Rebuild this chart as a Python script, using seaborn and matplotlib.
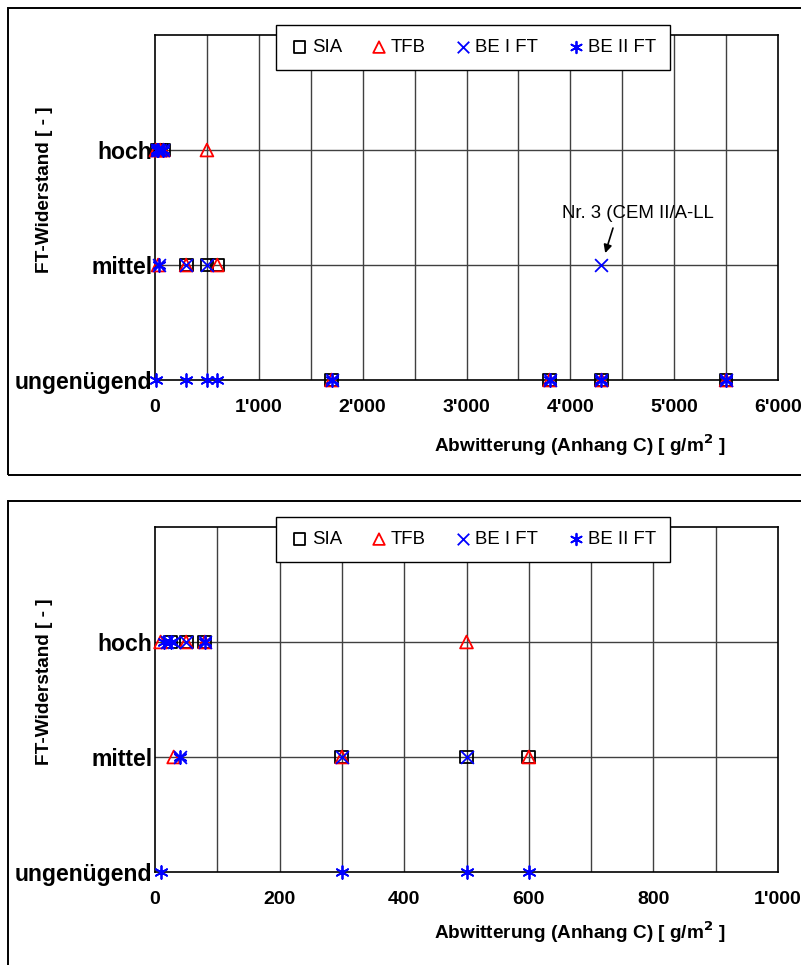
import matplotlib
matplotlib.use("Agg")
import matplotlib.pyplot as plt
import seaborn as sns
import pandas as pd
from matplotlib.patches import Rectangle

# categories on the y axis (bottom -> top)
levels = ["ungenügend", "mittel", "hoch"]

# Abwitterung [g/m2] and FT-Widerstand class per series
sia_x = [25, 50, 80, 300, 500, 600, 1700, 3800, 4300, 5500]
sia_lvl = ["hoch", "hoch", "hoch", "mittel", "mittel", "mittel",
           "ungenügend", "ungenügend", "ungenügend", "ungenügend"]

tfb_x = [9, 50, 80, 500, 30, 300, 600, 1700, 3800, 4300, 5500]
tfb_lvl = ["hoch", "hoch", "hoch", "hoch", "mittel", "mittel", "mittel",
           "ungenügend", "ungenügend", "ungenügend", "ungenügend"]

be1_x = [20, 30, 50, 80, 40, 300, 500, 4300, 1700, 3800, 4300, 5500]
be1_lvl = ["hoch", "hoch", "hoch", "hoch", "mittel", "mittel", "mittel", "mittel",
           "ungenügend", "ungenügend", "ungenügend", "ungenügend"]

be2_x = [15, 25, 80, 40, 10, 300, 500, 600, 1700, 3800, 4300, 5500]
be2_lvl = ["hoch", "hoch", "hoch", "mittel", "ungenügend", "ungenügend",
           "ungenügend", "ungenügend", "ungenügend", "ungenügend", "ungenügend", "ungenügend"]

x_ticks_top = [0, 1000, 2000, 3000, 4000, 5000, 6000]
x_labels_top = ["0", "1'000", "2'000", "3'000", "4'000", "5'000", "6'000"]
x_ticks_bot = [0, 200, 400, 600, 800, 1000]
x_labels_bot = ["0", "200", "400", "600", "800", "1'000"]

series = [
    ("SIA", sia_x, sia_lvl, dict(marker="s", facecolor="none", edgecolor="black")),
    ("TFB", tfb_x, tfb_lvl, dict(marker="^", facecolor="none", edgecolor="red")),
    ("BE I FT", be1_x, be1_lvl, dict(marker="x", color="blue")),
    ("BE II FT", be2_x, be2_lvl, dict(marker=(6, 2, 0), color="blue")),
]

sns.set_style("white")
plt.rcParams["font.family"] = ["Liberation Sans", "DejaVu Sans"]
plt.rcParams["text.color"] = "black"
plt.rcParams["xtick.color"] = "black"
plt.rcParams["ytick.color"] = "black"

ytick_size = 16.6
xtick_size = 14
label_size = 13.7
legend_size = 13.4

fig = plt.figure(figsize=(8.01, 9.65), dpi=100)

# panel frames
fig.patches.append(Rectangle((0.01, 0.5078), 1.0, 0.4839, transform=fig.transFigure,
                             fill=False, edgecolor="black", linewidth=1.4))
fig.patches.append(Rectangle((0.01, -0.02), 1.0, 0.5008, transform=fig.transFigure,
                             fill=False, edgecolor="black", linewidth=1.4))

ax1 = fig.add_axes([0.1935, 0.6062, 0.7778, 0.3575])
ax2 = fig.add_axes([0.1935, 0.0964, 0.7778, 0.3575])


def draw_panel(ax, xmax, xstep, ticks, labels, ylab_y, xlab_y):
    for name, xs, lv, kw in series:
        df = pd.DataFrame({"x": xs, "y": [levels.index(v) for v in lv]})
        df = df[df["x"] <= xmax]
        sns.scatterplot(data=df, x="x", y="y", s=85, linewidth=1.3, label=name,
                        clip_on=False, zorder=3, ax=ax, **kw)
    ax.set_xlim(0, xmax)
    ax.set_ylim(0, 3)
    for xv in range(xstep, xmax, xstep):
        ax.axvline(xv, color="0.25", linewidth=1.0, zorder=1)
    for yv in [1, 2]:
        ax.axhline(yv, color="0.25", linewidth=1.0, zorder=1)
    ax.set_xticks(ticks)
    ax.set_xticklabels(labels, fontsize=xtick_size, fontweight="bold")
    ax.set_yticks([0, 1, 2])
    ax.set_yticklabels(levels, fontsize=ytick_size, fontweight="bold")
    ax.tick_params(axis="both", length=3, pad=2, direction="in")
    ax.tick_params(axis="x", pad=14)
    ax.set_xlabel("")
    ax.set_ylabel("")
    for s in ax.spines.values():
        s.set_color("black")
        s.set_linewidth(1.2)
    ax.legend(ncol=4, loc="upper center", bbox_to_anchor=(473 / 801, ylab_y[1]),
              bbox_transform=fig.transFigure, fontsize=legend_size, frameon=True,
              fancybox=False, edgecolor="black", framealpha=1, borderpad=0.75,
              borderaxespad=0, handletextpad=0.15, columnspacing=1.5,
              handlelength=1.0, markerscale=0.9)
    fig.text(45 / 801, ylab_y[0], "FT-Widerstand [ - ]", rotation=90, ha="center",
             va="center", fontsize=label_size, fontweight="bold")
    fig.text(580 / 801, xlab_y, "Abwitterung (Anhang C) [ g/m$^\\mathbf{2}$ ]",
             ha="center", va="center", fontsize=label_size, fontweight="bold")


draw_panel(ax1, 6000, 500, x_ticks_top, x_labels_top,
           (1 - 190 / 965, 1 - 25 / 965), 1 - 445 / 965)
draw_panel(ax2, 1000, 100, x_ticks_bot, x_labels_bot,
           (1 - 682 / 965, 1 - 517 / 965), 1 - 932 / 965)

ax1.annotate("Nr. 3 (CEM II/A-LL", xy=(4300, 1), xytext=(26, 37),
             textcoords="offset points", ha="center", va="center", fontsize=legend_size,
             arrowprops=dict(arrowstyle="-|>", color="black", lw=1.2,
                             relpos=(0.35, 0.0), shrinkA=2, shrinkB=9,
                             mutation_scale=12))

plt.savefig("out.png", dpi=100)
